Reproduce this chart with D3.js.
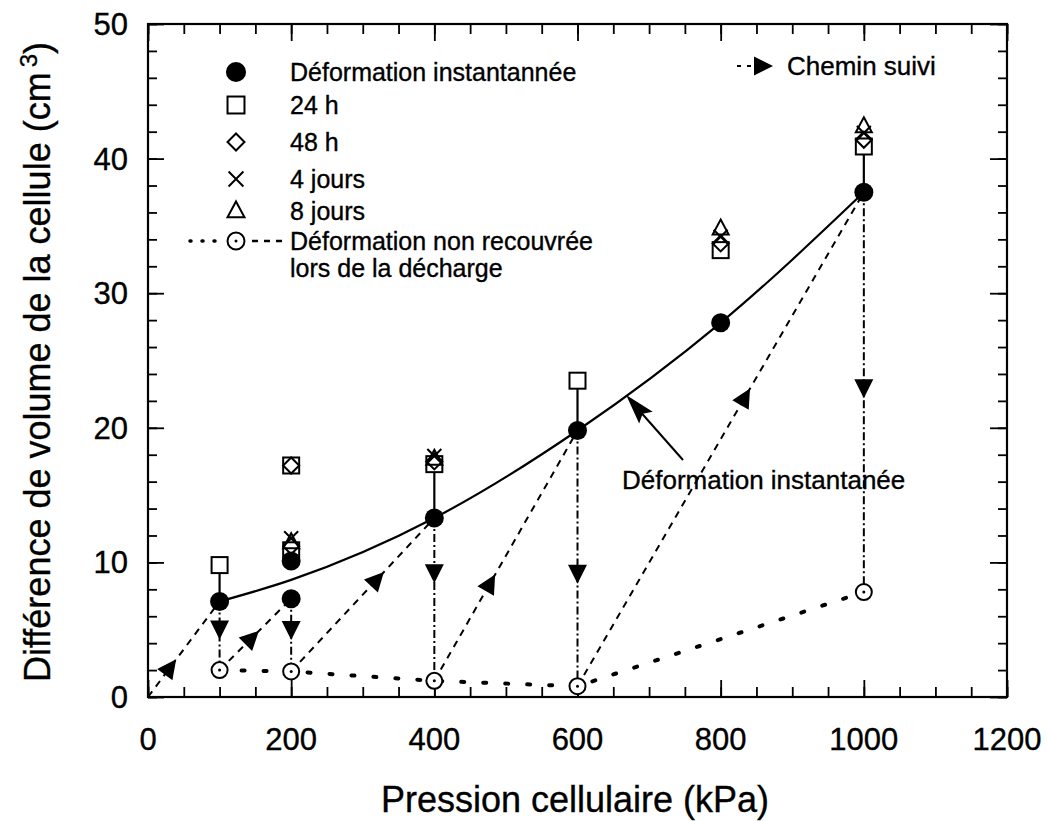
<!DOCTYPE html>
<html><head><meta charset="utf-8">
<script src="https://cdn.jsdelivr.net/npm/d3@7"></script>
<style>body{margin:0;background:#fff}svg{display:block}text{font-family:"Liberation Sans",Arial,sans-serif;fill:#000;stroke:#000;stroke-width:0.35px}</style>
</head><body>
<svg id="c" width="1047" height="821"></svg>
<script>
// ---- data ----
const xTicks = [0,200,400,600,800,1000,1200];
const yTicks = [0,10,20,30,40,50];
const instX = [100,200,200,400,600,800,1000];
const instY = [7.1,7.3,10.1,13.3,19.8,27.8,37.5];
const h24X = [100,200,200,400,600,800,1000];
const h24Y = [9.8,10.9,17.2,17.3,23.5,33.2,40.9];
const h48X = [200,200,400,800,1000];
const h48Y = [11.2,17.2,17.5,33.7,41.4];
const j4X = [200,400,800,1000];
const j4Y = [11.8,17.9,34.2,41.9];
const j8X = [200,400,800,1000];
const j8Y = [11.5,17.7,34.8,42.4];
const resX = [100,200,400,600,1000];
const resY = [2.0,1.9,1.2,0.8,7.8];
const curveX = [100,200,400,600,800,1000];
const curveY = [7.1,8.7,13.3,19.8,27.8,37.5];
const pathX = [0,100,100,200,200,400,400,600,600,1000,1000];
const pathY = [0,7.1,2.0,7.3,1.9,13.3,1.2,19.8,0.8,37.5,7.8];
const arrowT = [0.31,0.41,0.45,0.43,0.6,0.34,0.39,0.56,0.585,0.49];
const connX = [100,200,400,600,1000];
const connLo = [7.1,10.1,13.3,19.8,37.5];
const connHi = [9.8,10.9,17.3,23.5,40.9];
const legendLabels = ["Déformation instantannée","24 h","48 h","4 jours","8 jours","Déformation non recouvrée","lors de la décharge"];

// ---- layout ----
const svg = d3.select("#c");
const L=148,R=1007,T=24,B=697;
const x = d3.scaleLinear().domain([0,1200]).range([L,R]);
const y = d3.scaleLinear().domain([0,50]).range([B,T]);

svg.append("rect").attr("x",L).attr("y",T).attr("width",R-L).attr("height",B-T)
  .attr("fill","none").attr("stroke","#000").attr("stroke-width",2.2);

function ticks(axisFn, scale, vals, size, tr){
  const g = svg.append("g").attr("transform",tr)
    .call(axisFn(scale).tickValues(vals).tickSize(size).tickFormat(""));
  g.select(".domain").remove();
  g.selectAll("line").attr("stroke","#000").attr("stroke-width",1.8);
}
const xMinor = d3.range(0,1201,50), xMajor = d3.range(0,1201,200);
const yMinor = d3.range(0,51,2), yMajor = d3.range(0,51,10);
ticks(d3.axisBottom,x,xMinor,-10,`translate(0,${B})`);
ticks(d3.axisBottom,x,xMajor,-17,`translate(0,${B})`);
ticks(d3.axisTop,x,xMinor,-10,`translate(0,${T})`);
ticks(d3.axisTop,x,xMajor,-17,`translate(0,${T})`);
ticks(d3.axisLeft,y,yMinor,-9,`translate(${L},0)`);
ticks(d3.axisLeft,y,yMajor,-16,`translate(${L},0)`);
ticks(d3.axisRight,y,yMinor,-9,`translate(${R},0)`);
ticks(d3.axisRight,y,yMajor,-17,`translate(${R},0)`);

svg.append("g").selectAll("text").data(xTicks).join("text")
  .attr("x",d=>x(d)).attr("y",750).attr("text-anchor","middle")
  .attr("font-size",31).text(d=>d);
svg.append("g").selectAll("text").data(yTicks).join("text")
  .attr("x",128).attr("y",d=>y(d)+11).attr("text-anchor","end")
  .attr("font-size",31).text(d=>d);

svg.append("text").attr("x",575).attr("y",812).attr("text-anchor","middle")
  .attr("font-size",36).text("Pression cellulaire (kPa)");
const yt = svg.append("text").attr("transform","translate(50,362) rotate(-90)")
  .attr("text-anchor","middle").attr("font-size",36);
yt.append("tspan").text("Différence de volume de la cellule (cm");
yt.append("tspan").attr("dy",-13).attr("font-size",24).attr("dx",5).text("3");
yt.append("tspan").attr("dy",13).text(")");

const plot = svg.append("g");

// path followed (dashed with arrows)
const pts = pathX.map((v,i)=>[v,pathY[i]]);
for(let i=0;i<pts.length-1;i++){
  const a=pts[i], b=pts[i+1];
  const vertical = a[0]===b[0];
  plot.append("line").attr("x1",x(a[0])).attr("y1",y(a[1])).attr("x2",x(b[0])).attr("y2",y(b[1]))
    .attr("stroke","#000").attr("stroke-width",2)
    .attr("stroke-dasharray", vertical ? "8,3,2,3" : "7,6");
  const t = arrowT[i];
  const px = x(a[0])+(x(b[0])-x(a[0]))*t, py = y(a[1])+(y(b[1])-y(a[1]))*t;
  const ang = Math.atan2(y(b[1])-y(a[1]), x(b[0])-x(a[0]))*180/Math.PI;
  plot.append("path").attr("d","M10,0 L-9,-9.5 L-9,9.5 Z")
    .attr("transform",`translate(${px},${py}) rotate(${ang})`).attr("fill","#000");
}

// residual dotted line
plot.append("path").datum(resX.map((v,i)=>[v,resY[i]]))
  .attr("d",d3.line().x(d=>x(d[0])).y(d=>y(d[1])))
  .attr("fill","none").attr("stroke","#000").attr("stroke-width",4)
  .attr("stroke-linecap","round").attr("stroke-dasharray","3,19");

// instantaneous curve
plot.append("path").datum(curveX.map((v,i)=>[v,curveY[i]]))
  .attr("d",d3.line().x(d=>x(d[0])).y(d=>y(d[1])).curve(d3.curveMonotoneX))
  .attr("fill","none").attr("stroke","#000").attr("stroke-width",2.2);

plot.append("g").selectAll("line").data(connX).join("line")
  .attr("x1",d=>x(d)).attr("x2",d=>x(d))
  .attr("y1",(d,i)=>y(connLo[i])).attr("y2",(d,i)=>y(connHi[i]))
  .attr("stroke","#000").attr("stroke-width",2.2);

function drawMarker(g, kind, cx, cy, s){
  s = s||1;
  if(kind==="inst") g.append("circle").attr("cx",cx).attr("cy",cy).attr("r",9.5*s).attr("fill","#000");
  else if(kind==="sq") g.append("rect").attr("x",cx-8*s).attr("y",cy-8*s).attr("width",16*s).attr("height",16*s)
      .attr("fill","#fff").attr("stroke","#000").attr("stroke-width",2);
  else if(kind==="dia") g.append("path").attr("d",`M${cx},${cy-8*s}L${cx+8*s},${cy}L${cx},${cy+8*s}L${cx-8*s},${cy}Z`)
      .attr("fill","none").attr("stroke","#000").attr("stroke-width",2);
  else if(kind==="x") g.append("path").attr("d",`M${cx-7*s},${cy-7*s}L${cx+7*s},${cy+7*s}M${cx+7*s},${cy-7*s}L${cx-7*s},${cy+7*s}`)
      .attr("stroke","#000").attr("stroke-width",2);
  else if(kind==="tri") g.append("path").attr("d",`M${cx},${cy-9*s}L${cx+8*s},${cy+6*s}L${cx-8*s},${cy+6*s}Z`)
      .attr("fill","none").attr("stroke","#000").attr("stroke-width",2);
  else if(kind==="res"){
    g.append("circle").attr("cx",cx).attr("cy",cy).attr("r",8*s).attr("fill","#fff").attr("stroke","#000").attr("stroke-width",2);
    g.append("circle").attr("cx",cx).attr("cy",cy).attr("r",1.5).attr("fill","#000");
  }
}
const mg = plot.append("g");
h24X.forEach((v,i)=>drawMarker(mg,"sq",x(v),y(h24Y[i])));
h48X.forEach((v,i)=>drawMarker(mg,"dia",x(v),y(h48Y[i])));
j8X.forEach((v,i)=>drawMarker(mg,"tri",x(v),y(j8Y[i])));
j4X.forEach((v,i)=>drawMarker(mg,"x",x(v),y(j4Y[i])));
instX.forEach((v,i)=>drawMarker(mg,"inst",x(v),y(instY[i])));
resX.forEach((v,i)=>drawMarker(mg,"res",x(v),y(resY[i])));

// legend
const lg = svg.append("g");
const kinds = ["inst","sq","dia","x","tri","res"];
const rowY = [72,105,142,179,211,241];
const mx = 236, tx = 290;
kinds.forEach((k,i)=>{
  drawMarker(lg,k,mx,rowY[i],1.06);
  lg.append("text").attr("x",tx).attr("y",rowY[i]+9).attr("font-size",25).text(legendLabels[i]);
});
lg.append("text").attr("x",tx).attr("y",268+9).attr("font-size",25).text(legendLabels[6]);
lg.append("line").attr("x1",190).attr("x2",216).attr("y1",241).attr("y2",241)
  .attr("stroke","#000").attr("stroke-width",3.5).attr("stroke-dasharray","1,11").attr("stroke-linecap","round");
lg.append("line").attr("x1",252).attr("x2",286).attr("y1",241).attr("y2",241)
  .attr("stroke","#000").attr("stroke-width",2.5).attr("stroke-dasharray","6,6");

// Chemin suivi
lg.append("line").attr("x1",737).attr("x2",754).attr("y1",66).attr("y2",66).attr("stroke","#000").attr("stroke-width",2).attr("stroke-dasharray","4,6");
lg.append("path").attr("d","M10,0 L-9,-9.5 L-9,9.5 Z").attr("transform","translate(763,66)").attr("fill","#000");
lg.append("text").attr("x",787).attr("y",75).attr("font-size",26).text("Chemin suivi");

// annotation
const tipX = x(668), tipY = 395, tailX = 683, tailY = 460;
svg.append("line").attr("x1",tailX).attr("y1",tailY).attr("x2",tipX+10).attr("y2",tipY+12).attr("stroke","#000").attr("stroke-width",2);
const aang = Math.atan2(tipY-tailY, tipX-tailX)*180/Math.PI;
svg.append("path").attr("d","M0,0 L-30,-9 L-25,0 L-30,9 Z").attr("transform",`translate(${tipX},${tipY}) rotate(${aang})`).attr("fill","#000");
svg.append("text").attr("x",622).attr("y",489).attr("font-size",26).text("Déformation instantanée");
</script>
</body></html>
